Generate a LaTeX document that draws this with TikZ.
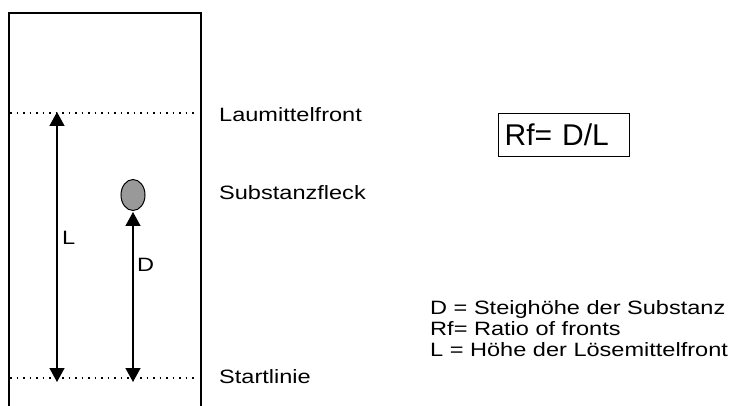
\documentclass[tikz,border=0pt]{standalone}
\usepackage{fontspec}
\setmainfont{Liberation Sans}
\newfontfamily\widefont[FakeStretch=1.22]{Liberation Sans}
\usetikzlibrary{arrows.meta,shapes.geometric}
\begin{document}
\begin{tikzpicture}[x=1pt,y=-1pt,
  frame/.style={line width=1.4pt,line cap=butt},
  dotline/.style={line width=1.5pt,dash pattern=on 1.5pt off 5pt},
  arr/.style={line width=1.3pt,arrows={Triangle[width=15pt,length=14pt,fill=black]-Triangle[width=15pt,length=14pt,fill=black]}},
  lbl/.style={anchor=base west,inner sep=0pt,font=\widefont\fontsize{19.3}{21}\selectfont},
  spotstyle/.style={ellipse,draw,line width=1pt,fill=black!40,minimum width=24pt,minimum height=31pt,inner sep=0pt}
]
\useasboundingbox (0,0) rectangle (731,406);
% frame (plate)
\coordinate (fbl) at (9,406);
\coordinate (ftl) at (9,13);
\coordinate (ftr) at (201,13);
\coordinate (fbr) at (201,406);
\draw[frame] (fbl) -- (ftl) -- (ftr) -- (fbr);
% dotted lines
\coordinate (topl) at (10,113);
\coordinate (topr) at (197,113);
\coordinate (botl) at (10,378);
\coordinate (botr) at (197,378);
\draw[dotline] (topl) -- (topr);
\draw[dotline] (botl) -- (botr);
% spot
\node[spotstyle] (spot) at (133,195) {};
% arrows
\coordinate (Ltop) at (57,112);
\coordinate (Lbot) at (57,382);
\coordinate (Dtop) at (133,212);
\coordinate (Dbot) at (133,382);
\draw[arr] (Lbot) -- (Ltop);
\draw[arr] (Dbot) -- (Dtop);
\node[lbl] (Llab) at (62,244) {L};
\node[lbl] (Dlab) at (137,272) {D};
% side labels
\node[lbl] (front) at (219,122) {Laumittelfront};
\node[lbl] (fleck) at (219,200) {Substanzfleck};
\node[lbl] (start) at (219,383) {Startlinie};
% formula box
\node[draw,line width=1.4pt,anchor=north west,minimum width=131pt,minimum height=43pt,
      text width=119pt,inner xsep=5pt,inner ysep=0pt,align=left,
      font=\fontsize{30}{34}\selectfont] (rf) at (498,113) {Rf= D/L};
% legend
\node[lbl] (leg1) at (430,314) {D = Steighöhe der Substanz};
\node[lbl] (leg2) at (430,335) {Rf= Ratio of fronts};
\node[lbl] (leg3) at (430,356) {L = Höhe der Lösemittelfront};
\end{tikzpicture}
\end{document}
